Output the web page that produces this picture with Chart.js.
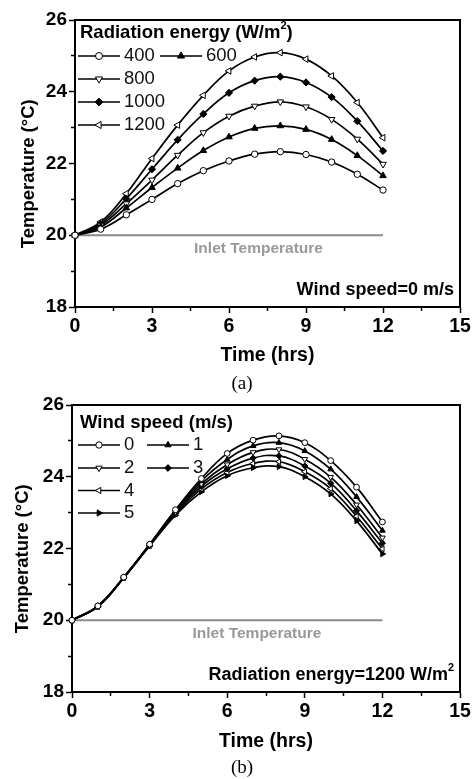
<!DOCTYPE html>
<html>
<head>
<meta charset="utf-8">
<script src="https://cdn.jsdelivr.net/npm/chart.js@4.4.1/dist/chart.umd.min.js"></script>
<style>
  body { margin: 0; background: #fff; }
  #wrap { position: relative; width: 475px; height: 779px; }
  canvas { position: absolute; left: 0; }
  .cap { position: absolute; width: 60px; text-align: center; font: 19px "Liberation Serif", "Times New Roman", serif; color: #000; }
</style>
</head>
<body>
<div id="wrap">
  <canvas id="chartA" width="475" height="390" style="top:0"></canvas>
  <canvas id="chartB" width="475" height="389" style="top:390px"></canvas>
  <div class="cap" style="left:212px;top:372px">(a)</div>
  <div class="cap" style="left:212px;top:756px">(b)</div>
</div>
<script>
"use strict";

// time axis (hrs)
var hours = [0, 1, 2, 3, 4, 5, 6, 7, 8, 9, 10, 11, 12];

// (a) wind speed 0 m/s, radiation energy series
var radLabels = ['400', '600', '800', '1000', '1200'];
var rad400  = [20, 20.17, 20.57, 21.00, 21.44, 21.80, 22.07, 22.26, 22.33, 22.25, 22.04, 21.70, 21.26];
var rad600  = [20, 20.23, 20.76, 21.33, 21.87, 22.36, 22.74, 22.98, 23.05, 22.95, 22.67, 22.22, 21.66];
var rad800  = [20, 20.28, 20.88, 21.54, 22.23, 22.86, 23.32, 23.60, 23.72, 23.58, 23.23, 22.68, 21.98];
var rad1000 = [20, 20.32, 21.02, 21.84, 22.66, 23.38, 23.97, 24.31, 24.42, 24.26, 23.85, 23.18, 22.35];
var rad1200 = [20, 20.37, 21.16, 22.14, 23.07, 23.90, 24.58, 24.97, 25.09, 24.91, 24.44, 23.70, 22.72];

// (b) radiation 1200 W/m2, wind speed series
var windLabels = ['0', '1', '2', '3', '4', '5'];
var wind0 = [20, 20.40, 21.20, 22.12, 23.08, 23.95, 24.65, 25.02, 25.14, 24.95, 24.45, 23.71, 22.74];
var wind1 = [20, 20.40, 21.20, 22.11, 23.05, 23.88, 24.48, 24.86, 24.95, 24.72, 24.21, 23.44, 22.50];
var wind2 = [20, 20.39, 21.19, 22.10, 23.02, 23.80, 24.34, 24.68, 24.76, 24.49, 23.99, 23.22, 22.30];
var wind3 = [20, 20.39, 21.19, 22.09, 22.99, 23.73, 24.22, 24.52, 24.58, 24.30, 23.82, 23.05, 22.15];
var wind4 = [20, 20.38, 21.18, 22.08, 22.96, 23.66, 24.12, 24.37, 24.42, 24.14, 23.67, 22.90, 21.99];
var wind5 = [20, 20.38, 21.18, 22.07, 22.93, 23.58, 24.03, 24.25, 24.28, 24.00, 23.52, 22.77, 21.85];

// inlet temperature reference line
var inletHours = [0, 12];
var inletTemp = [20, 20];

// tick labels
var xTickLabels = [0, 3, 6, 9, 12, 15];
var yTickLabels = [18, 20, 22, 24, 26];

var FONT = '"Liberation Sans", Arial, Helvetica, sans-serif';
Chart.defaults.font.family = FONT;
Chart.defaults.color = '#000';

function pts(xs, ys) {
  var out = [];
  for (var i = 0; i < xs.length; i++) out.push({ x: xs[i], y: ys[i] });
  return out;
}

// marker look for each series, in legend order
function series(label, values, style, rot, filled, r) {
  return {
    label: label,
    data: pts(hours, values),
    borderColor: '#000',
    borderWidth: 1.7,
    tension: 0.4,
    pointStyle: style,
    pointRotation: rot,
    pointRadius: r,
    pointBorderWidth: 1,
    pointBorderColor: '#000',
    pointBackgroundColor: filled ? '#000' : '#fff',
    clip: false
  };
}

function inletSet() {
  return {
    label: 'Inlet Temperature',
    data: pts(inletHours, inletTemp),
    borderColor: '#8a8a8a',
    borderWidth: 2,
    pointRadius: 0,
    order: 10,
    clip: false
  };
}

// draw a string with optional superscript parts: [[text, isSup], ...]
function richText(ctx, parts, x, y, size, weight, align) {
  var w = 0, i;
  for (i = 0; i < parts.length; i++) {
    ctx.font = weight + ' ' + (parts[i][1] ? size * 0.6 : size) + 'px ' + FONT;
    w += ctx.measureText(parts[i][0]).width;
  }
  var cx = align === 'right' ? x - w : (align === 'center' ? x - w / 2 : x);
  ctx.textBaseline = 'middle';
  ctx.textAlign = 'left';
  for (i = 0; i < parts.length; i++) {
    var sup = parts[i][1];
    ctx.font = weight + ' ' + (sup ? size * 0.6 : size) + 'px ' + FONT;
    ctx.fillText(parts[i][0], cx, sup ? y - size * 0.38 : y);
    cx += ctx.measureText(parts[i][0]).width;
  }
}

// frame, in-plot legend and notes
var figPlugin = {
  id: 'fig',
  afterDraw: function (chart, args, o) {
    var ctx = chart.ctx, a = chart.chartArea;
    var sx = chart.scales.x, sy = chart.scales.y;
    ctx.save();
    ctx.strokeStyle = '#000';
    ctx.lineWidth = 2;
    ctx.beginPath();
    ctx.moveTo(a.left, a.top);
    ctx.lineTo(a.right, a.top);
    ctx.lineTo(a.right, a.bottom);
    ctx.stroke();

    // legend
    ctx.fillStyle = '#000';
    richText(ctx, o.title, 80, o.titleY, 18.5, 'bold', 'left');
    o.items.forEach(function (it) {
      var ds = chart.data.datasets[it.i];
      ctx.strokeStyle = ds.borderColor;
      ctx.lineWidth = ds.borderWidth;
      ctx.beginPath();
      ctx.moveTo(it.x, it.y);
      ctx.lineTo(it.x + 42, it.y);
      ctx.stroke();
      ctx.fillStyle = ds.pointBackgroundColor;
      ctx.strokeStyle = ds.pointBorderColor;
      ctx.lineWidth = ds.pointBorderWidth;
      Chart.helpers.drawPoint(ctx, {
        pointStyle: ds.pointStyle, rotation: ds.pointRotation,
        radius: ds.pointRadius + 0.3, borderWidth: ds.pointBorderWidth
      }, it.x + 21, it.y);
      ctx.fillStyle = '#111';
      richText(ctx, [[ds.label]], it.x + 46, it.y, 18.5, 'normal', 'left');
    });

    // inlet label and condition note
    ctx.fillStyle = '#999';
    richText(ctx, [['Inlet Temperature']], sx.getPixelForValue(7.15), sy.getPixelForValue(20) + 13, 15.5, 'bold', 'center');
    ctx.fillStyle = '#000';
    richText(ctx, o.note, a.right - 6, a.bottom - 17, 18, 'bold', 'right');
    ctx.restore();
  }
};

function makeOptions(leftW, padTop, xH, yTitlePad, xTitlePad, fig) {
  return {
    responsive: false,
    animation: false,
    devicePixelRatio: 1,
    layout: { padding: { left: 0, right: 15, top: padTop, bottom: 0 } },
    plugins: { legend: { display: false }, tooltip: { enabled: false }, fig: fig },
    scales: {
      x: {
        type: 'linear', min: 0, max: 15,
        afterFit: function (s) { s.height = xH; },
        ticks: {
          stepSize: 1.5, padding: 2, font: { size: 19.5, weight: 'bold' },
          callback: function (v) { return xTickLabels.indexOf(v) >= 0 ? String(v) : ''; }
        },
        grid: {
          drawOnChartArea: false, tickLength: 6, tickWidth: 1.5, tickColor: '#000',
          tickBorderDash: function (c) { return xTickLabels.indexOf(c.tick.value) >= 0 ? [] : [3, 100]; }
        },
        border: { color: '#000', width: 2 },
        title: { display: true, text: 'Time (hrs)', font: { size: 19.5, weight: 'bold' }, padding: { top: 0, bottom: xTitlePad } }
      },
      y: {
        min: 18, max: 26,
        afterFit: function (s) { s.width = leftW; },
        ticks: {
          stepSize: 1, padding: 2, font: { size: 19, weight: 'bold' },
          callback: function (v) { return yTickLabels.indexOf(v) >= 0 ? String(v) : ''; }
        },
        grid: {
          drawOnChartArea: false, tickLength: 6, tickWidth: 1.5, tickColor: '#000',
          tickBorderDash: function (c) { return yTickLabels.indexOf(c.tick.value) >= 0 ? [] : [0, 2, 4, 100]; }
        },
        border: { color: '#000', width: 2 },
        title: { display: true, text: 'Temperature (\u00b0C)    ', font: { size: 18.5, weight: 'bold' }, padding: { top: yTitlePad, bottom: 0 } }
      }
    }
  };
}

// (a)
new Chart(document.getElementById('chartA'), {
  type: 'line',
  data: {
    datasets: [
      series(radLabels[0], rad400, 'circle', 0, false, 3.2),
      series(radLabels[1], rad600, 'triangle', 0, true, 3.8),
      series(radLabels[2], rad800, 'triangle', 180, false, 3.8),
      series(radLabels[3], rad1000, 'rectRot', 0, true, 3.6),
      series(radLabels[4], rad1200, 'triangle', 270, false, 3.8),
      inletSet()
    ]
  },
  options: makeOptions(75, 20, 83, 18, 23, {
    title: [['Radiation energy (W/m'], ['2', true], [')']],
    titleY: 33,
    items: [
      { i: 0, x: 78, y: 56 }, { i: 1, x: 160, y: 56 },
      { i: 2, x: 78, y: 79 }, { i: 3, x: 78, y: 102 }, { i: 4, x: 78, y: 125 }
    ],
    note: [['Wind speed=0 m/s']]
  }),
  plugins: [figPlugin]
});

// (b)
new Chart(document.getElementById('chartB'), {
  type: 'line',
  data: {
    datasets: [
      series(windLabels[0], wind0, 'circle', 0, false, 2.9),
      series(windLabels[1], wind1, 'triangle', 0, true, 3.3),
      series(windLabels[2], wind2, 'triangle', 180, false, 3.3),
      series(windLabels[3], wind3, 'rectRot', 0, true, 3.1),
      series(windLabels[4], wind4, 'triangle', 270, false, 3.3),
      series(windLabels[5], wind5, 'triangle', 90, true, 3.3),
      inletSet()
    ]
  },
  options: makeOptions(72, 15, 87, 12, 26, {
    title: [['Wind speed (m/s)']],
    titleY: 33,
    items: [
      { i: 0, x: 78, y: 55 }, { i: 1, x: 147, y: 55 },
      { i: 2, x: 78, y: 78 }, { i: 3, x: 147, y: 78 },
      { i: 4, x: 78, y: 100.5 }, { i: 5, x: 78, y: 123 }
    ],
    note: [['Radiation energy=1200 W/m'], ['2', true]]
  }),
  plugins: [figPlugin]
});
</script>
</body>
</html>
